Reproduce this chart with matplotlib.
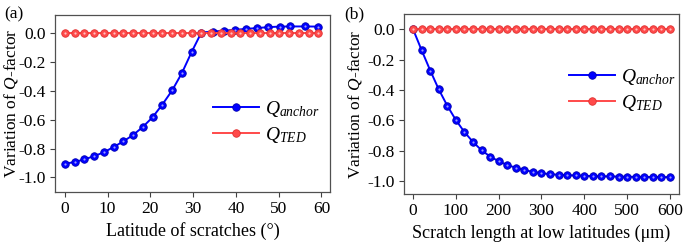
import numpy as np
import matplotlib.pyplot as plt

plt.rcParams['font.family'] = ['Liberation Serif', 'DejaVu Serif']
plt.rcParams['mathtext.fontset'] = 'custom'
plt.rcParams['mathtext.rm'] = 'Liberation Serif'
plt.rcParams['mathtext.it'] = 'Liberation Serif:italic'

# panel (a): latitude of scratches
lat_ted = [0, 2.28, 4.56, 6.84, 9.12, 11.4, 13.68, 15.96, 18.24, 20.52, 22.8, 25.08,
           27.36, 29.64, 31.92, 34.2, 36.48, 38.76, 41.04, 43.32, 45.6, 47.88, 50.16,
           52.44, 54.72, 57.0, 59.28]
q_ted_a = [0.0] * len(lat_ted)
lat_anchor = [0, 2.28, 4.56, 6.84, 9.12, 11.4, 13.68, 15.96, 18.24, 20.52, 22.8, 25.08,
              27.36, 29.64, 31.92, 34.7, 37.3, 39.8, 42.4, 44.9, 47.5, 50.2, 52.7, 56.2, 59.2]
q_anchor_a = [-0.905, -0.893, -0.875, -0.852, -0.826, -0.789, -0.75, -0.706, -0.65, -0.583,
              -0.495, -0.398, -0.278, -0.132, 0.003, 0.01, 0.016, 0.022, 0.028, 0.034,
              0.04, 0.044, 0.045, 0.045, 0.044]

# panel (b): scratch length at low latitudes
length = list(range(0, 620, 20))
q_ted_b = [0.0] * len(length)
q_anchor_b = [0.0, -0.138, -0.271, -0.396, -0.504, -0.598, -0.677, -0.742, -0.797, -0.838,
              -0.869, -0.894, -0.912, -0.927, -0.939, -0.948, -0.954, -0.958, -0.961, -0.963,
              -0.965, -0.967, -0.968, -0.969, -0.970, -0.971, -0.972, -0.972, -0.973, -0.973,
              -0.974]

blue = '#0000ff'
red = '#ff4a4a'

fig = plt.figure(figsize=(6.85, 2.48), dpi=100)
ax1 = fig.add_axes([0.0803, 0.226, 0.4015, 0.714])
ax2 = fig.add_axes([0.590, 0.2165, 0.401, 0.726])


def draw_series(ax, x, y, color, edge, light, label):
    ax.plot(x, y, '-', color=color, lw=1.4, marker='o', ms=5.4,
            mfc=color, mec=edge, mew=0.6, label=label)
    ax.plot(x, y, 'o', ms=1.6, color=light, mew=0)


draw_series(ax1, lat_anchor, q_anchor_a, blue, '#0000b0', '#9a9aff', r'$Q_{anchor}$')
draw_series(ax1, lat_ted, q_ted_a, red, '#e03030', '#ffc0c0', r'$Q_{TED}$')
draw_series(ax2, length, q_anchor_b, blue, '#0000b0', '#9a9aff', r'$Q_{anchor}$')
draw_series(ax2, length, q_ted_b, red, '#e03030', '#ffc0c0', r'$Q_{TED}$')

ax1.set_xlim(-2.3, 62)
ax1.set_ylim(-1.1, 0.125)
ax1.set_xticks([0, 10, 20, 30, 40, 50, 60])
ax1.set_xlabel('Latitude of scratches (°)', fontsize=13)

ax2.set_xlim(-21, 621)
ax2.set_ylim(-1.087, 0.1)
ax2.set_xticks([0, 100, 200, 300, 400, 500, 600])
ax2.set_xlabel('Scratch length at low latitudes (μm)', fontsize=13)

for ax in (ax1, ax2):
    ax.set_yticks([0.0, -0.2, -0.4, -0.6, -0.8, -1.0])
    ax.set_yticklabels(['0.0', '-0.2', '-0.4', '-0.6', '-0.8', '-1.0'])
    ax.set_ylabel('Variation of $Q$-factor', fontsize=12.5)
    ax.tick_params(direction='out', length=3.5, width=0.8, labelsize=12.5,
                   color='#404040', pad=3)
    for s in ax.spines.values():
        s.set_color('#505050')
        s.set_linewidth(0.9)

ax1.yaxis.set_label_coords(-0.128, 0.5)
ax2.yaxis.set_label_coords(-0.145, 0.5)

h, l = ax1.get_legend_handles_labels()
ax1.legend(h, l, loc='center left', bbox_to_anchor=(0.51, 0.395), frameon=False,
           fontsize=14, handlelength=2.4, handletextpad=0.3, labelspacing=0.3)
h, l = ax2.get_legend_handles_labels()
ax2.legend(h, l, loc='center left', bbox_to_anchor=(0.535, 0.58), frameon=False,
           fontsize=14, handlelength=2.4, handletextpad=0.3, labelspacing=0.3)

fig.text(0.006, 0.975, '(a)', fontsize=12.5, va='top')
fig.text(0.503, 0.975, '(b)', fontsize=12.5, va='top')

fig.savefig('out.png', dpi=100)
